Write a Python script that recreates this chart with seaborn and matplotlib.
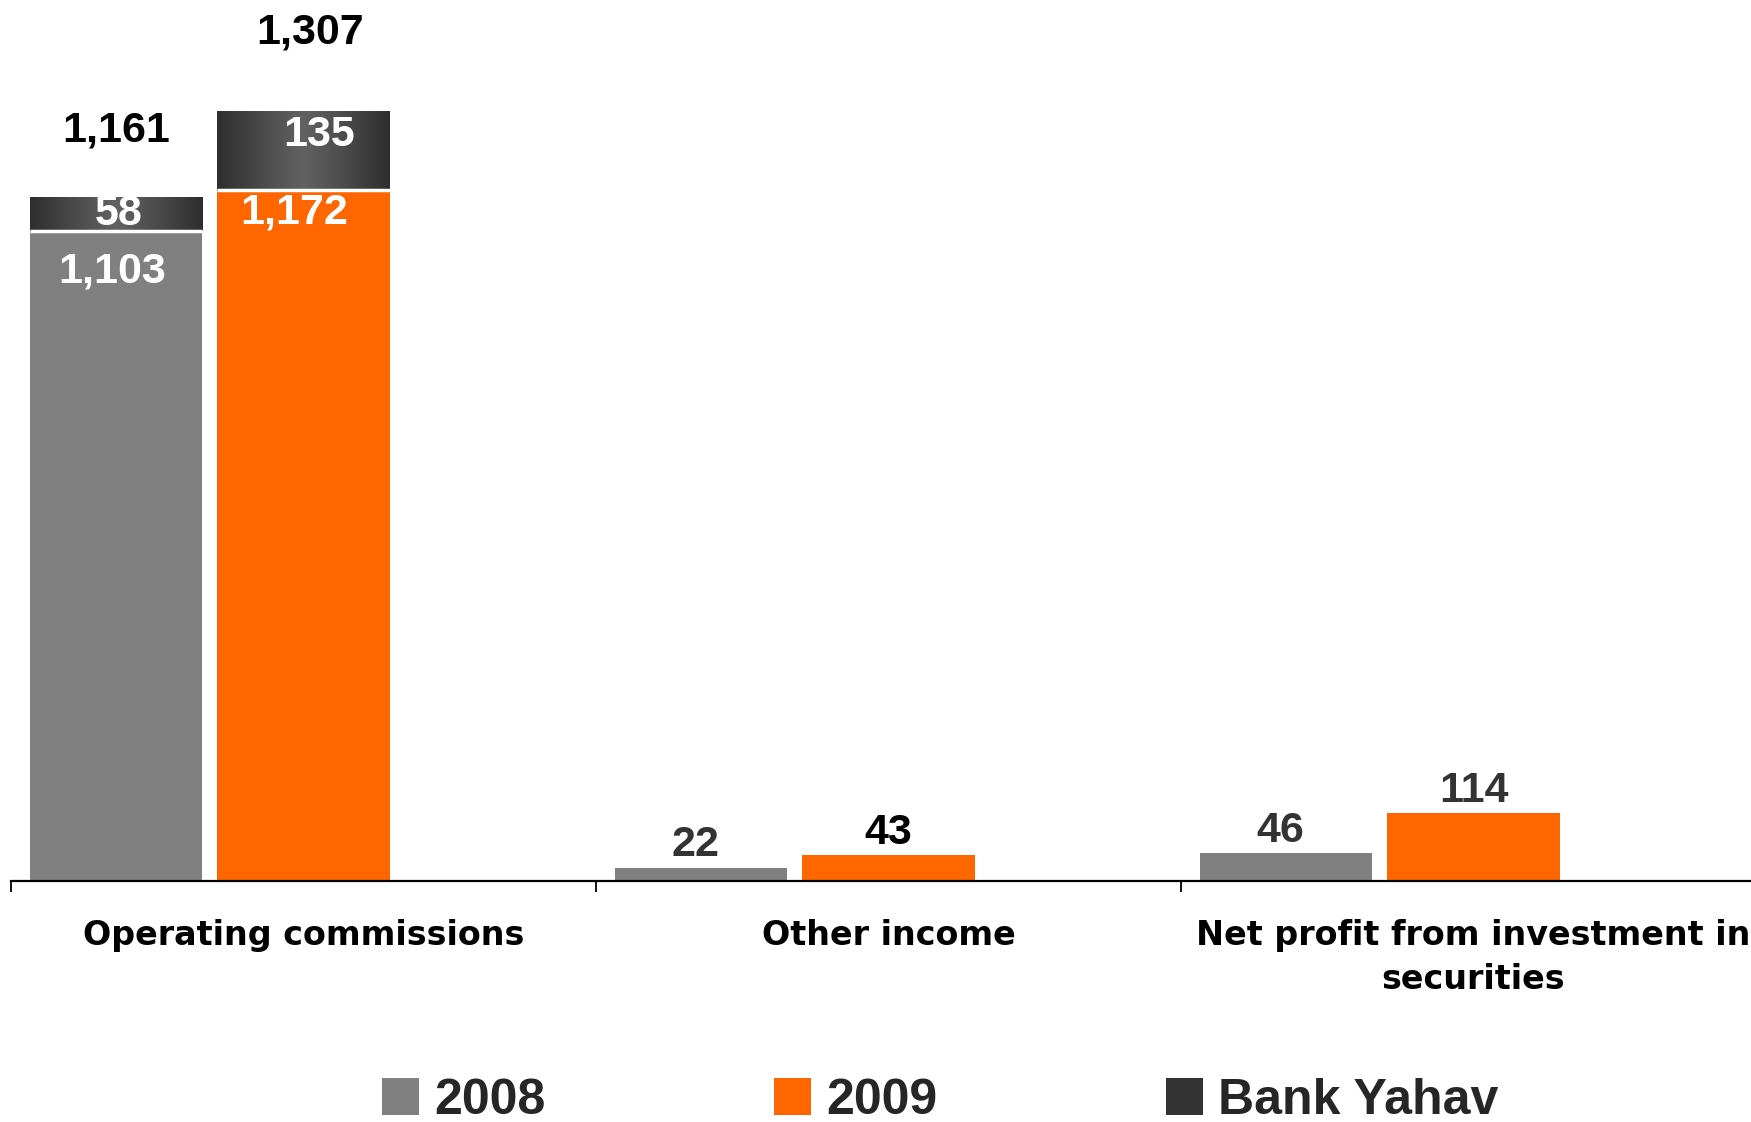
import matplotlib
matplotlib.use("Agg")
import numpy as np
import pandas as pd
import matplotlib.pyplot as plt
import seaborn as sns
from matplotlib.patches import Patch
from matplotlib.colors import LinearSegmentedColormap

# Income components (NIS millions)
categories = ["Operating commissions", "Other income",
              "Net profit from investment in\nsecurities"]
series = ["2008", "2009", "Bank Yahav"]
values_2008 = [1103, 22, 46]
values_2009 = [1172, 43, 114]
# Bank Yahav contribution stacked on operating commissions (2008, 2009)
bank_yahav = [58, 135]

colors = {"2008": "#808080", "2009": "#FF6600", "Bank Yahav": "#333333"}

sns.set_theme(style="white")
plt.rcParams["font.family"] = ["Liberation Sans", "DejaVu Sans"]
plt.rcParams["font.weight"] = "bold"

fig = plt.figure(figsize=(17.51, 11.22), dpi=100)
ax = fig.add_axes([11 / 1751, 0.2152, 1755 / 1751, 1 - 0.2152])

df = pd.DataFrame({
    "category": categories * 2,
    "series": ["2008"] * 3 + ["2009"] * 3,
    "value": values_2008 + values_2009,
})

sns.barplot(data=df, x="category", y="value", hue="series",
            order=categories, hue_order=series, palette=colors,
            width=0.96, gap=0.08, saturation=1, linewidth=0,
            errorbar=None, legend=False, ax=ax)

bars_2008 = ax.containers[0]
bars_2009 = ax.containers[1]

# Bank Yahav segments with a horizontal sheen
sheen = LinearSegmentedColormap.from_list(
    "sheen", ["#2e2e2e", "#4a4a4a", "#626262", "#4a4a4a", "#2e2e2e"])
grad = np.linspace(0, 1, 256).reshape(1, -1)
base_rects = [bars_2008[0], bars_2009[0]]
for rect, add in zip(base_rects, bank_yahav):
    x0 = rect.get_x()
    w = rect.get_width()
    base = rect.get_height()
    seg = ax.bar(x0 + w / 2, add, bottom=base, width=w,
                 color=colors["Bank Yahav"], linewidth=0, zorder=3)[0]
    im = ax.imshow(grad, extent=[x0, x0 + w, base, base + add],
                   aspect="auto", cmap=sheen, origin="lower", zorder=3.5)
    im.set_clip_path(seg)
    ax.hlines(base, x0, x0 + w, color="white", lw=2.5, zorder=4)


def label(rect_x, rect_w, y, text, dy, color, dx=0):
    ax.annotate(text, xy=(rect_x + rect_w / 2, y), xytext=(dx, dy),
                textcoords="offset points", ha="center", va="center",
                fontsize=31, fontweight="bold", color=color, zorder=5)


# values inside / above the base bars
for i, (r8, r9) in enumerate(zip(bars_2008, bars_2009)):
    v8, v9 = values_2008[i], values_2009[i]
    if i == 0:
        label(r8.get_x(), r8.get_width(), v8, f"{v8:,}", -29, "white", dx=-3)
        label(r9.get_x(), r9.get_width(), v9, f"{v9:,}", -16, "white", dx=-7)
    else:
        label(r8.get_x(), r8.get_width(), v8, f"{v8:,}", 16, "#333333", dx=-4)
        label(r9.get_x(), r9.get_width(), v9, f"{v9:,}", 16,
              "black" if i == 1 else "#333333")

# Bank Yahav values and totals
offs_seg = [0, 11]
offs_tot = [48, 56]
for k, (rect, add) in enumerate(zip(base_rects, bank_yahav)):
    base = int(round(rect.get_height()))
    total = base + add
    label(rect.get_x(), rect.get_width(), base + add / 2, f"{add:,}",
          offs_seg[k], "white", dx=2 + 9 * k)
    label(rect.get_x(), rect.get_width(), total, f"{total:,}",
          offs_tot[k], "black", dx=5 * k)

ax.set_xlim(-0.5, 2.5)
ax.set_ylim(0, 1495)
ax.set_yticks([])
ax.set_xlabel("")
ax.set_ylabel("")
for s in ["left", "top", "right"]:
    ax.spines[s].set_visible(False)
ax.spines["bottom"].set_color("black")
ax.spines["bottom"].set_linewidth(1.6)

ax.set_xticks(range(len(categories)))
ax.set_xticklabels(categories, fontsize=24, fontweight="bold", color="black",
                   family=["DejaVu Sans"], linespacing=1.42)
ax.set_xticks([-0.5, 0.5, 1.5, 2.5], minor=True)
ax.tick_params(axis="x", which="major", length=0, pad=28)
ax.tick_params(axis="x", which="minor", length=8, width=1.3,
               direction="out", color="black", bottom=True)

handles = [Patch(facecolor=colors[s], edgecolor="none", label=s) for s in series]
fig.legend(handles=handles, loc="center left",
           bbox_to_anchor=(382 / 1751, 1 - 1101 / 1122), ncol=3,
           frameon=False, prop={"size": 36, "weight": "bold"},
           handlelength=0.74, handleheight=0.74, handletextpad=0.3,
           columnspacing=4.57, borderpad=0, borderaxespad=0)

fig.savefig("out.png", dpi=100, facecolor="white")
